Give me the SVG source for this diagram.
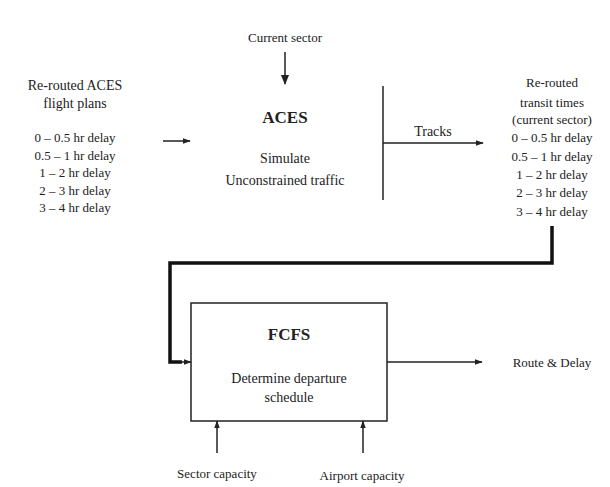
<svg xmlns="http://www.w3.org/2000/svg" width="610" height="487" viewBox="0 0 610 487">
<style>
text{font-family:"Liberation Serif","Times New Roman",serif;fill:#222;text-anchor:middle;font-size:13px}
.t{font-weight:bold;font-size:17px}
.m{font-size:14px}
.ln{stroke:#222;stroke-width:1.5;fill:none}
.thick{stroke:#111;stroke-width:3.5;fill:none}
</style>
<defs>
<marker id="ah" viewBox="0 0 10 10" refX="9" refY="5" markerWidth="8" markerHeight="8" markerUnits="userSpaceOnUse" orient="auto">
<path d="M0,1.5 L10,5 L0,8.5 z" fill="#222"/>
</marker>
<marker id="ahb" viewBox="0 0 10 10" refX="9" refY="5" markerWidth="10" markerHeight="10" markerUnits="userSpaceOnUse" orient="auto">
<path d="M0,1 L10,5 L0,9 z" fill="#222"/>
</marker>
</defs>
<rect width="610" height="487" fill="#fff"/>
<g id="current-sector"><text x="285" y="42">Current sector</text></g>
<g id="left-input">
<text class="m" x="75" y="90">Re-routed ACES</text>
<text class="m" x="75" y="108">flight plans</text>
<text x="75" y="142">0 – 0.5 hr delay</text>
<text x="75" y="160">0.5 – 1 hr delay</text>
<text x="75" y="177">1 – 2 hr delay</text>
<text x="75" y="195">2 – 3 hr delay</text>
<text x="75" y="212">3 – 4 hr delay</text>
</g>
<g id="aces">
<text class="t" x="285" y="123">ACES</text>
<text class="m" x="285" y="163">Simulate</text>
<text class="m" x="285" y="185">Unconstrained traffic</text>
</g>
<g id="right-output">
<text x="552" y="87">Re-routed</text>
<text x="552" y="107">transit times</text>
<text x="552" y="124">(current sector)</text>
<text x="552" y="142">0 – 0.5 hr delay</text>
<text x="552" y="161">0.5 – 1 hr delay</text>
<text x="552" y="179">1 – 2 hr delay</text>
<text x="552" y="197">2 – 3 hr delay</text>
<text x="552" y="216">3 – 4 hr delay</text>
</g>
<g id="fcfs">
<rect x="191" y="303" width="196" height="118" fill="#fff" stroke="#222" stroke-width="1.5"/>
<text class="t" x="289" y="340">FCFS</text>
<text class="m" x="289" y="383">Determine departure</text>
<text class="m" x="289" y="402">schedule</text>
</g>
<g id="route-delay"><text x="552" y="367">Route &amp; Delay</text></g>
<g id="sector-capacity"><text x="217" y="478">Sector capacity</text></g>
<g id="airport-capacity"><text x="362" y="480">Airport capacity</text></g>
<g id="connectors">
<line class="ln" x1="285" y1="52" x2="285" y2="84" marker-end="url(#ahb)"/>
<line class="ln" x1="163" y1="141" x2="190" y2="141" marker-end="url(#ah)"/>
<line class="ln" x1="383" y1="86" x2="383" y2="200"/>
<line class="ln" x1="383" y1="143" x2="483" y2="143" marker-end="url(#ah)"/>
<text x="433" y="136" class="m">Tracks</text>
<polyline class="thick" points="552,226 552,263 170,263 170,362 182,362"/>
<line class="ln" x1="180" y1="362" x2="191" y2="362" marker-end="url(#ah)"/>
<line class="ln" x1="387" y1="362" x2="482" y2="362" marker-end="url(#ah)"/>
<line class="ln" x1="217" y1="453" x2="217" y2="421" marker-end="url(#ah)"/>
<line class="ln" x1="363" y1="453" x2="363" y2="421" marker-end="url(#ah)"/>
</g>
</svg>
